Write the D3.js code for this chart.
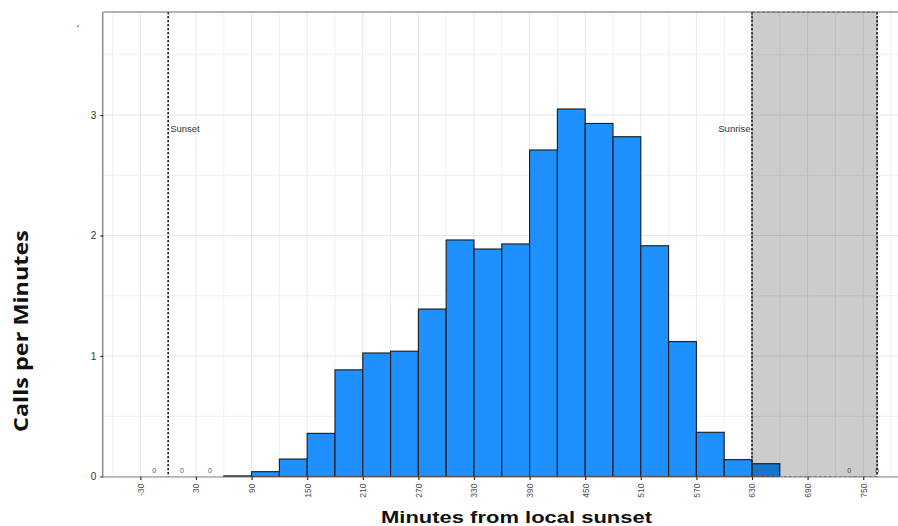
<!DOCTYPE html>
<html>
<head>
<meta charset="utf-8">
<script src="https://cdn.jsdelivr.net/npm/d3@7"></script>
<style>
  html, body { margin: 0; padding: 0; background: #fff; }
  svg { display: block; }
</style>
</head>
<body>
<svg id="chart" width="898" height="526"></svg>
<script>
// ---- data ----
const binStart = [60, 90, 120, 150, 180, 210, 240, 270, 300, 330, 360, 390, 420, 450, 480, 510, 540, 570, 600, 630];
const callsPerMinute = [0.005, 0.04, 0.145, 0.358, 0.885, 1.025, 1.04, 1.39, 1.963, 1.888, 1.93, 2.71, 3.05, 2.93, 2.82, 1.915, 1.12, 0.367, 0.14, 0.106];
const binWidth = 30;
const zeroBinCenters = [-15, 15, 45, 735, 765];
const xTickValues = [-30, 30, 90, 150, 210, 270, 330, 390, 450, 510, 570, 630, 690, 750];
const yTickValues = [0, 1, 2, 3];
const sunsetMinute = 0;
const sunriseMinute = 630;
const nextSunsetMinute = 765;

// ---- layout ----
const svg = d3.select("#chart");
const x = d3.scaleLinear().domain([-70, 810]).range([103.3, 918.8]);
const y = d3.scaleLinear().domain([0, 3.855]).range([476.5, 12]);
const pLeft = x.range()[0], pRight = x.range()[1];
const pTop = y.range()[1], pBottom = y.range()[0];

// grid
const g = svg.append("g");
const vMinor = d3.range(-60, 800, 60);
const vMajor = xTickValues;
g.selectAll(".vminor").data(vMinor).join("line")
  .attr("x1", d => x(d)).attr("x2", d => x(d)).attr("y1", pTop).attr("y2", pBottom)
  .attr("stroke", "#f0f0f0").attr("stroke-width", 1);
g.selectAll(".vmajor").data(vMajor).join("line")
  .attr("x1", d => x(d)).attr("x2", d => x(d)).attr("y1", pTop).attr("y2", pBottom)
  .attr("stroke", "#e8e8e8").attr("stroke-width", 1);
g.selectAll(".hminor").data([0.5, 1.5, 2.5, 3.5]).join("line")
  .attr("x1", pLeft).attr("x2", pRight).attr("y1", d => y(d)).attr("y2", d => y(d))
  .attr("stroke", "#f0f0f0").attr("stroke-width", 1);
g.selectAll(".hmajor").data(yTickValues).join("line")
  .attr("x1", pLeft).attr("x2", pRight).attr("y1", d => y(d)).attr("y2", d => y(d))
  .attr("stroke", "#e8e8e8").attr("stroke-width", 1);

// bars
svg.append("g").selectAll("rect").data(binStart).join("rect")
  .attr("x", d => x(d))
  .attr("width", d => x(d + binWidth) - x(d))
  .attr("y", (d, i) => y(callsPerMinute[i]))
  .attr("height", (d, i) => y(0) - y(callsPerMinute[i]))
  .attr("fill", "#1E90FF")
  .attr("stroke", "#1a1a1a")
  .attr("stroke-width", 1.1);

// zero-count labels
svg.append("g").selectAll("text").data(zeroBinCenters).join("text")
  .attr("x", d => x(d)).attr("y", y(0.05) + 2.5)
  .attr("text-anchor", "middle")
  .attr("font-family", "Liberation Sans, Arial, sans-serif")
  .attr("font-size", 7).attr("fill", "#555")
  .text("0");

// night-end shading
svg.append("rect")
  .attr("x", x(sunriseMinute)).attr("width", x(nextSunsetMinute) - x(sunriseMinute))
  .attr("y", pTop).attr("height", pBottom - pTop)
  .attr("fill", "#000").attr("fill-opacity", 0.2)
  .attr("stroke", "#555").attr("stroke-width", 0.8).attr("stroke-dasharray", "3,2");

// dashed reference lines
[sunsetMinute, sunriseMinute, nextSunsetMinute].forEach(m => {
  svg.append("line")
    .attr("x1", x(m)).attr("x2", x(m)).attr("y1", pTop).attr("y2", pBottom)
    .attr("stroke", "#222").attr("stroke-width", 1.6).attr("stroke-dasharray", "2.2,1.8");
});

// labels
svg.append("text").attr("x", x(sunsetMinute) + 2).attr("y", y(2.89) + 3.3)
  .attr("font-family", "Liberation Sans, Arial, sans-serif").attr("font-size", 9.5)
  .attr("fill", "#333").text("Sunset");
svg.append("text").attr("x", x(sunriseMinute) - 1.5).attr("y", y(2.89) + 3.3)
  .attr("text-anchor", "end")
  .attr("font-family", "Liberation Sans, Arial, sans-serif").attr("font-size", 9.5)
  .attr("fill", "#333").text("Sunrise");

// panel top border
svg.append("line").attr("x1", pLeft).attr("x2", 898).attr("y1", pTop).attr("y2", pTop)
  .attr("stroke", "#666").attr("stroke-width", 1);

// axes
const xAxis = d3.axisBottom(x).tickValues(xTickValues).tickSize(3.5).tickPadding(2).tickFormat(d => String(d));
const xg = svg.append("g").attr("transform", `translate(0,${pBottom})`).call(xAxis);
xg.select(".domain").attr("stroke", "#888").attr("d", `M${pLeft},0.5H898`);
xg.selectAll(".tick line").attr("stroke", "#333").attr("stroke-width", 1.2);
xg.selectAll(".tick text")
  .attr("transform", "rotate(-90)")
  .attr("x", -7).attr("y", 0).attr("dy", "0.35em")
  .attr("text-anchor", "end")
  .attr("font-family", "Liberation Sans, Arial, sans-serif")
  .attr("font-size", 8.5).attr("fill", "#4d4d4d");

const yAxis = d3.axisLeft(y).tickValues(yTickValues).tickSize(3).tickPadding(4).tickFormat(d => String(d));
const yg = svg.append("g").attr("transform", `translate(${pLeft},0)`).call(yAxis);
yg.select(".domain").attr("stroke", "#555").attr("d", `M-0.5,${pTop}V${pBottom}`);
yg.selectAll(".tick line").attr("stroke", "#333").attr("stroke-width", 1.2);
yg.selectAll(".tick text")
  .attr("font-family", "Liberation Sans, Arial, sans-serif")
  .attr("font-size", 10).attr("fill", "#333");

// small stray mark at top-left
svg.append("text").attr("x", 77).attr("y", 33)
  .attr("font-family", "Liberation Sans, Arial, sans-serif").attr("font-size", 10)
  .attr("fill", "#333").text("'");

// axis titles
svg.append("text").attr("x", 516.5).attr("y", 523)
  .attr("text-anchor", "middle")
  .attr("font-family", "Liberation Sans, Arial, sans-serif")
  .attr("font-weight", "bold").attr("font-size", 17).attr("fill", "#111")
  .attr("textLength", 271).attr("lengthAdjust", "spacingAndGlyphs")
  .text("Minutes from local sunset");
svg.append("text")
  .attr("transform", "translate(28,331) rotate(-90)")
  .attr("text-anchor", "middle")
  .attr("font-family", "Open Sans, Noto Sans, sans-serif")
  .attr("font-weight", "bold").attr("font-size", 19).attr("fill", "#111")
  .attr("textLength", 202).attr("lengthAdjust", "spacingAndGlyphs")
  .text("Calls per Minutes");
</script>
</body>
</html>
